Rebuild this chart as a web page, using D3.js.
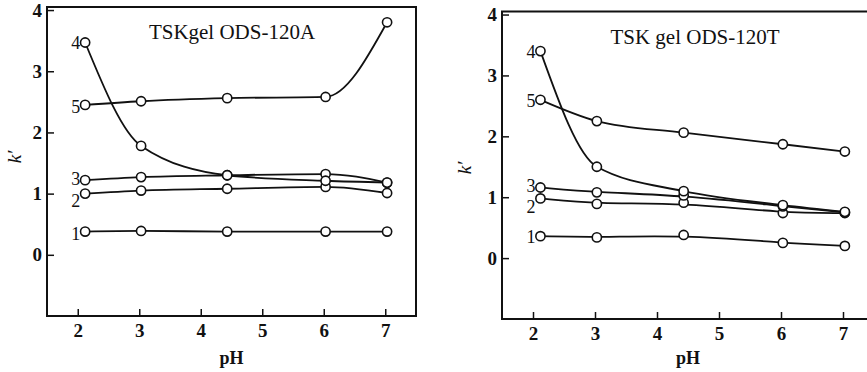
<!DOCTYPE html>
<html>
<head>
<meta charset="utf-8">
<script src="https://cdn.jsdelivr.net/npm/d3@7"></script>
<style>
  body { margin: 0; background: #fff; }
  svg { display: block; }
  text { font-family: "Liberation Serif", "DejaVu Serif", serif; fill: #111; }
</style>
</head>
<body>
<div id="chart"></div>
<script>
// pH of the measured points (same for both columns)
var pH = [2.12, 3.03, 4.43, 6.03, 7.03];
var xTicks = [2, 3, 4, 5, 6, 7];
var yTicks = [0, 1, 2, 3, 4];
var seriesNames = ["1", "2", "3", "4", "5"];

// k' values, TSKgel ODS-120A
var a1 = [0.38, 0.39, 0.38, 0.38, 0.38];
var a2 = [1.00, 1.05, 1.08, 1.11, 1.01];
var a3 = [1.22, 1.27, 1.30, 1.32, 1.18];
var a4 = [3.47, 1.78, 1.30, 1.21, 1.18];
var a5 = [2.45, 2.51, 2.56, 2.58, 3.80];

// k' values, TSKgel ODS-120T
var t1 = [0.36, 0.34, 0.38, 0.25, 0.20];
var t2 = [0.98, 0.89, 0.91, 0.74, 0.74];
var t3 = [1.16, 1.08, 1.03, 0.85, 0.75];
var t4 = [3.40, 1.50, 1.10, 0.87, 0.76];
var t5 = [2.60, 2.25, 2.06, 1.87, 1.75];

var svg = d3.select('#chart')
            .append('svg')
            .attr('width', 867)
            .attr('height', 372);

function panel(cfg){
  var x = d3.scaleLinear().domain([1.5, 7.5]).range([cfg.left, cfg.right]);
  var y = d3.scaleLinear().domain([-1, 4.05]).range([cfg.bottom, cfg.top]);
  var g = svg.append('g');

  var xAxis = g.append('g')
               .attr('transform', 'translate(0,' + cfg.bottom + ')')
               .call(d3.axisBottom(x).tickValues(xTicks).tickFormat(d3.format('d'))
                       .tickSize(-7).tickSizeOuter(0).tickPadding(8));
  var yAxis = g.append('g')
               .attr('transform', 'translate(' + cfg.left + ',0)')
               .call(d3.axisLeft(y).tickValues(yTicks).tickFormat(d3.format('d'))
                       .tickSize(-7).tickSizeOuter(0).tickPadding(5));
  [xAxis, yAxis].forEach(function(ax){
    ax.attr('font-family', null).attr('font-size', null);
    ax.select('.domain').remove();
    ax.selectAll('line').attr('stroke', '#111').attr('stroke-width', 1.5);
    ax.selectAll('text')
      .style('font-size', '19px')
      .style('font-weight', 'bold')
      .attr('fill', '#111');
  });

  g.append('rect')
   .attr('x', cfg.left).attr('y', cfg.top)
   .attr('width', cfg.right - cfg.left).attr('height', cfg.bottom - cfg.top)
   .attr('fill', 'none').attr('stroke', '#111').attr('stroke-width', 2);

  cfg.series.forEach(function(vals, s){
    var line = d3.line()
                 .x(function(d, i){ return x(pH[i]); })
                 .y(function(d){ return y(d); })
                 .curve(cfg.curves[s]);

    g.append('path')
     .attr('d', line(vals))
     .attr('fill', 'none')
     .attr('stroke', '#111')
     .attr('stroke-width', 1.8);

    g.selectAll('.pt' + s)
     .data(vals)
     .enter().append('circle')
     .attr('cx', function(d, i){ return x(pH[i]); })
     .attr('cy', function(d){ return y(d); })
     .attr('r', 4.6)
     .attr('fill', '#fff')
     .attr('stroke', '#111')
     .attr('stroke-width', 1.6);

    g.append('text')
     .attr('x', x(pH[0]) - 5)
     .attr('y', y(vals[0]) + cfg.labelDy[s])
     .attr('dy', '0.35em')
     .attr('text-anchor', 'end')
     .style('font-size', '18px')
     .text(seriesNames[s]);
  });

  g.append('text')
   .attr('x', cfg.titleX).attr('y', cfg.titleY)
   .attr('text-anchor', 'middle')
   .style('font-size', '21px')
   .text(cfg.title);

  g.append('text')
   .attr('x', x(4.5)).attr('y', 364)
   .attr('text-anchor', 'middle')
   .style('font-size', '18px')
   .style('font-weight', 'bold')
   .text('pH');

  g.append('text')
   .attr('transform', 'translate(' + cfg.kx + ',' + cfg.ky + ') rotate(-90)')
   .attr('text-anchor', 'middle')
   .style('font-size', '19px')
   .style('font-style', 'italic')
   .text('k\u2032');
}

var mono = d3.curveMonotoneX;
var smooth = d3.curveBasis;

panel({
  left: 47, right: 416, top: 7, bottom: 316,
  series: [a1, a2, a3, a4, a5],
  curves: [mono, mono, mono, mono, mono],
  labelDy: [2, 7, -1, 0, 2],
  title: 'TSKgel ODS-120A', titleX: 232, titleY: 39,
  kx: 21, ky: 157
});

panel({
  left: 502, right: 874, top: 11.5, bottom: 319,
  series: [t1, t2, t3, t4, t5],
  curves: [smooth, smooth, smooth, mono, mono],
  labelDy: [1, 8, -2, 1, 1],
  title: 'TSK gel ODS-120T', titleX: 695, titleY: 44,
  kx: 471, ky: 168
});
</script>
</body>
</html>
